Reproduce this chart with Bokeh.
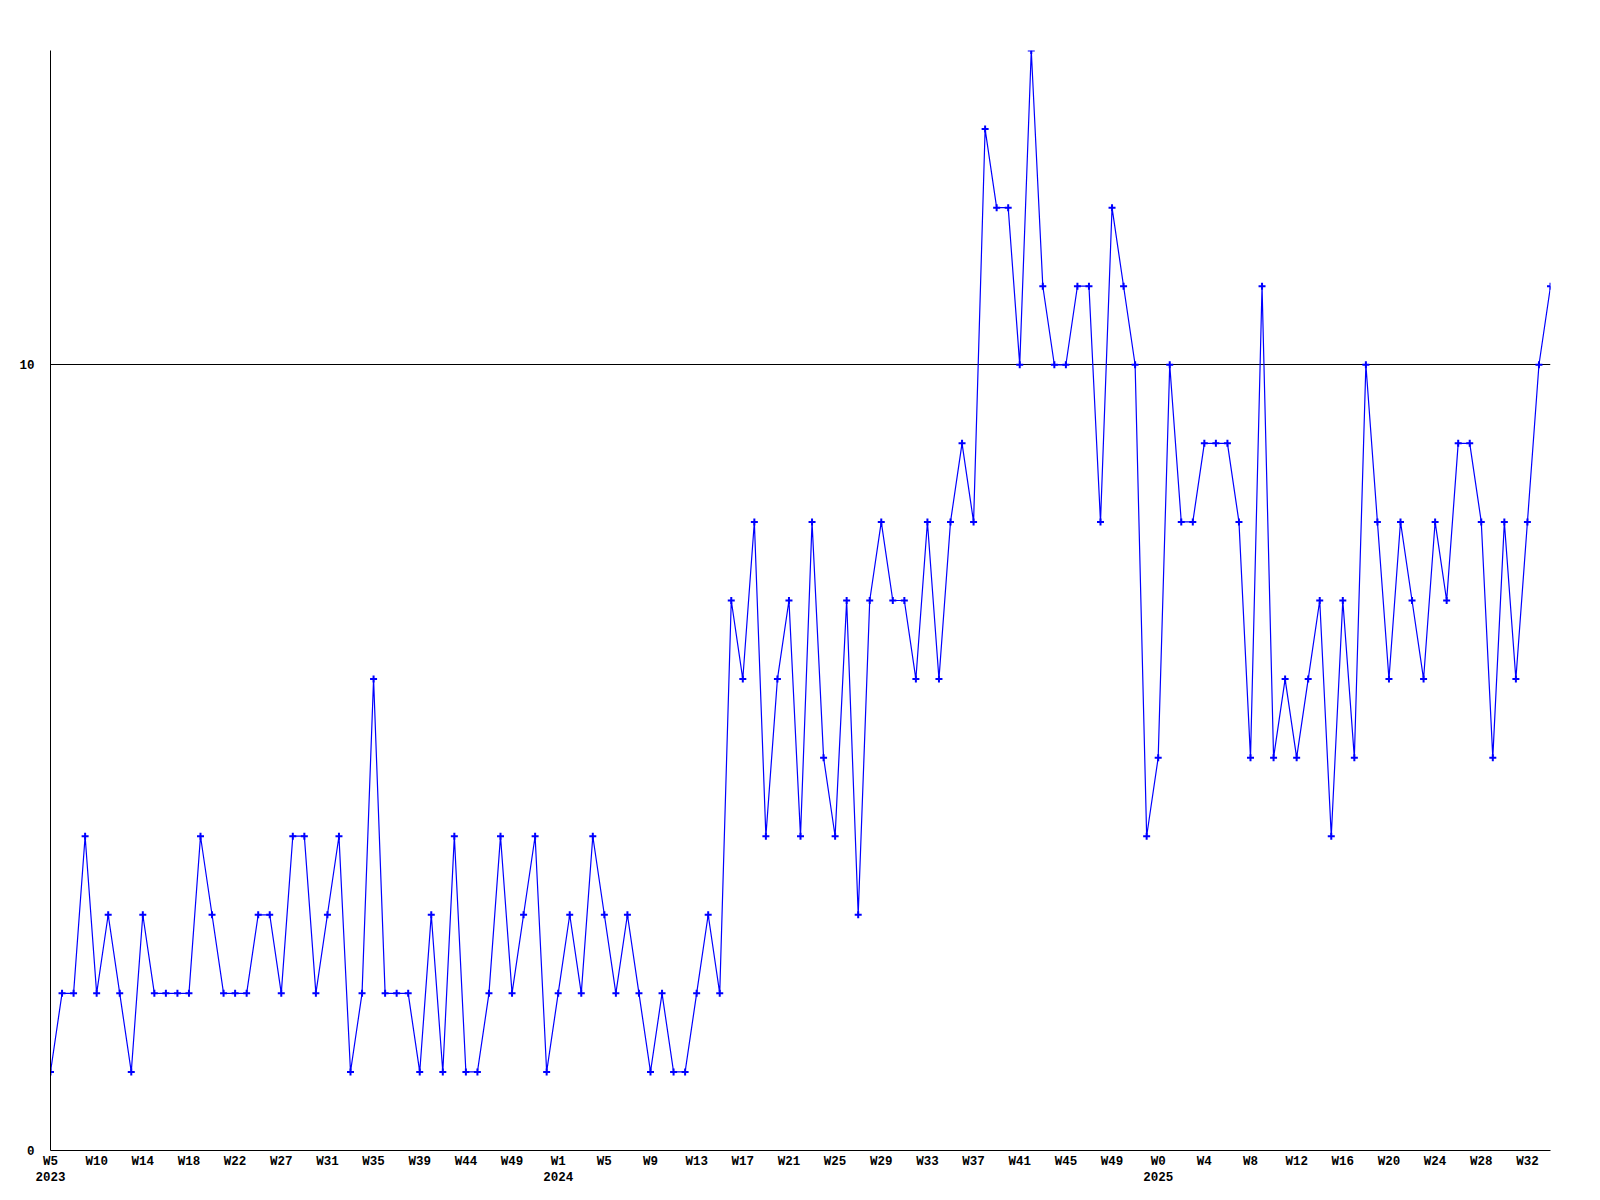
from bokeh.plotting import figure
from bokeh.models import Range1d, FixedTicker
from bokeh.embed import file_html
from bokeh.resources import INLINE

# ---- data ----
values = [1, 2, 2, 4, 2, 3, 2, 1, 3, 2,
          2, 2, 2, 4, 3, 2, 2, 2, 3, 3,
          2, 4, 4, 2, 3, 4, 1, 2, 6, 2,
          2, 2, 1, 3, 1, 4, 1, 1, 2, 4,
          2, 3, 4, 1, 2, 3, 2, 4, 3, 2,
          3, 2, 1, 2, 1, 1, 2, 3, 2, 7,
          6, 8, 4, 6, 7, 4, 8, 5, 4, 7,
          3, 7, 8, 7, 7, 6, 8, 6, 8, 9,
          8, 13, 12, 12, 10, 14, 11, 10, 10, 11,
          11, 8, 12, 11, 10, 4, 5, 10, 8, 8,
          9, 9, 9, 8, 5, 11, 5, 6, 5, 6,
          7, 4, 7, 5, 10, 8, 6, 8, 7, 6,
          8, 7, 9, 9, 8, 5, 8, 6, 8, 10,
          11]
tick_weeks = ["W5", "W10", "W14", "W18", "W22", "W27", "W31", "W35", "W39", "W44", "W49",
              "W1", "W5", "W9", "W13", "W17", "W21", "W25", "W29", "W33", "W37", "W41", "W45", "W49",
              "W0", "W4", "W8", "W12", "W16", "W20", "W24", "W28", "W32"]
tick_years = {0: "2023", 11: "2024", 24: "2025"}
tick_step = 4
y_ticks = [0, 10]

x = list(range(len(values)))
tick_pos = [i * tick_step for i in range(len(tick_weeks))]
overrides = {}
for k, (pos, wk) in enumerate(zip(tick_pos, tick_weeks)):
    overrides[pos] = wk + ("\n" + tick_years[k] if k in tick_years else "")

FONT = "Liberation Mono"

p = figure(width=1590, height=1190, output_backend="svg", toolbar_location=None,
           x_range=Range1d(0, len(values) - 1), y_range=Range1d(0, 14),
           min_border_left=50, min_border_right=40, min_border_top=50, min_border_bottom=40)
p.outline_line_color = None
p.background_fill_color = "white"
p.border_fill_color = "white"

p.line(x, values, line_color="#0000ff", line_width=1.2)
p.scatter(x, values, marker="cross", size=7, line_color="#0000ff", line_width=2)

# axes
p.xaxis.ticker = FixedTicker(ticks=tick_pos)
p.xaxis.major_label_overrides = overrides
p.yaxis.ticker = FixedTicker(ticks=y_ticks)
for ax in (p.xaxis, p.yaxis):
    ax.axis_line_color = "black"
    ax.axis_line_width = 1
    ax.major_tick_line_color = None
    ax.minor_tick_line_color = None
    ax.major_tick_out = 0
    ax.major_tick_in = 0
    ax.major_label_text_font = FONT
    ax.major_label_text_font_style = "bold"
    ax.major_label_text_font_size = "12.5px"
    ax.major_label_text_color = "black"
p.xaxis.major_label_standoff = 4
p.xaxis.major_label_text_line_height = 1.17
p.yaxis.major_label_standoff = 16

p.xgrid.grid_line_color = None
p.ygrid.ticker = FixedTicker(ticks=y_ticks)
p.ygrid.grid_line_color = "black"
p.ygrid.grid_line_alpha = 1.0
p.ygrid.grid_line_width = 1

open("out.html", "w").write(file_html(p, INLINE))
